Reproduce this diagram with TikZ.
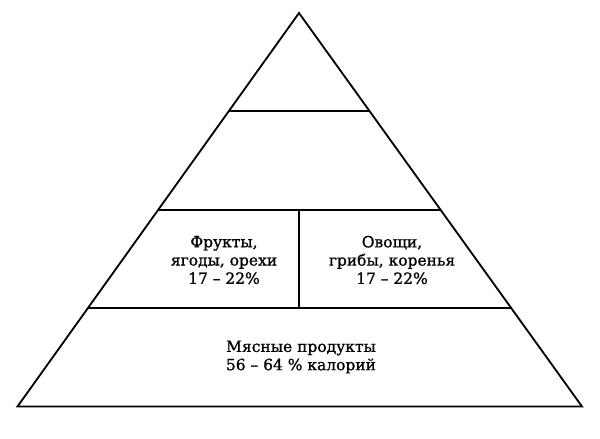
\documentclass[tikz,border=0pt]{standalone}
\usepackage{fontspec}
\setmainfont{DejaVu Serif}
\newfontfamily\tierfont{DejaVu Serif}[FakeBold=1]
\usetikzlibrary{calc}

\tikzset{
  tier/.style={line width=1.3pt},
  lbl/.style={align=center, inner sep=0pt, font=\fontsize{11}{13}\selectfont\tierfont}
}

\begin{document}
\begin{tikzpicture}[x=0.025cm, y=-0.025cm]
\useasboundingbox (0,0) rectangle (600,439);

\coordinate (top) at (299,13);
\coordinate (bl) at (17.5,406.5);
\coordinate (br) at (582,406.5);

% levels of the pyramid
\coordinate (l1) at ($(top)!.25!(bl)$);
\coordinate (r1) at ($(top)!.25!(br)$);
\coordinate (l2) at ($(top)!.5!(bl)$);
\coordinate (r2) at ($(top)!.5!(br)$);
\coordinate (l3) at ($(top)!.75!(bl)$);
\coordinate (r3) at ($(top)!.75!(br)$);

\draw[tier] (top) -- (bl) -- (br) -- cycle;
\draw[tier] (l1) -- (r1);
\draw[tier] (l2) -- (r2);
\draw[tier] (l3) -- (r3);
\draw[tier] (top |- l2) -- (top |- l3);

\node[lbl] (fruit) at (224,260) {Фрукты,\\ягоды, орехи\\17 – 22\%};
\node[lbl] (veg) at (392,260) {Овощи,\\грибы, коренья\\17 – 22\%};
\node[lbl] (meat) at (301,357) {Мясные продукты\\56 – 64 \% калорий};
\end{tikzpicture}
\end{document}
